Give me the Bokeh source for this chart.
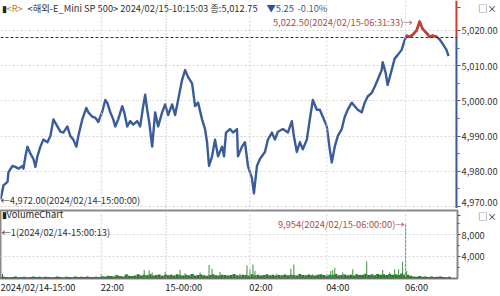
import numpy as np
from bokeh.plotting import figure
from bokeh.models import Range1d, FixedTicker, NumeralTickFormatter, Span, Label
from bokeh.layouts import column
from bokeh.embed import file_html
from bokeh.resources import INLINE

# ---------------- data ----------------
price_x = [0, 3, 7, 8, 12, 15, 18, 22, 23, 25, 27, 30, 33, 35, 37, 40, 43, 47, 50, 53,
           57, 60, 63, 67, 70, 73, 76, 78, 82, 86, 88, 92, 95, 98, 102, 105, 107, 110, 113, 115,
           118, 122, 124, 127, 130, 133, 137, 140, 143, 145, 147, 149, 152, 155, 158, 162, 165, 168, 172, 175,
           178, 182, 185, 188, 192, 195, 198, 202, 205, 207, 209, 212, 215, 218, 222, 224, 226, 230, 233, 237,
           238, 242, 245, 248, 252, 254, 257, 260, 265, 268, 272, 275, 278, 283, 288, 292, 294, 297, 300, 303,
           307, 310, 313, 317, 320, 323, 327, 330, 332, 335, 338, 342, 345, 348, 352, 355, 358, 362, 365, 368,
           372, 375, 378, 382, 383, 386, 388, 392, 395, 398, 402, 405, 407, 410, 413, 417, 420, 423, 427, 430,
           433, 437, 440, 443, 447, 449]
price = [4972.00, 4976.00, 4977.00, 4979.75, 4981.50, 4981.25, 4980.75, 4981.50, 4980.75, 4984.25,
         4987.00, 4985.00, 4983.50, 4981.25, 4984.25, 4987.00, 4989.00, 4988.25, 4990.00, 4994.75,
         4992.75, 4991.25, 4991.00, 4992.75, 4990.00, 4989.00, 4987.00, 4990.00, 4994.75, 4998.00,
         4996.75, 4995.50, 4995.25, 4994.00, 4997.00, 5000.25, 4999.50, 4996.75, 4994.75, 4992.75,
         4994.75, 4998.50, 4996.75, 4992.75, 4994.25, 4993.25, 4994.25, 4992.75, 4998.50, 5001.75,
         4997.50, 4994.00, 4987.00, 4996.75, 4992.75, 4996.75, 4999.00, 4996.00, 4999.00, 4996.00,
         5000.25, 5006.00, 5008.75, 5006.75, 5005.00, 4998.50, 4999.50, 4994.75, 4992.00, 4988.25,
         4981.50, 4984.25, 4989.00, 4984.25, 4987.00, 4984.25, 4991.00, 4992.00, 4991.00, 4992.00,
         4984.25, 4987.00, 4988.25, 4981.50, 4978.00, 4973.75, 4981.50, 4983.50, 4985.50, 4989.00,
         4991.00, 4989.00, 4991.25, 4992.00, 4991.00, 4994.25, 4990.00, 4985.50, 4988.25, 4986.25,
         4989.00, 4994.75, 5000.25, 4997.50, 4997.50, 4995.50, 4992.75, 4986.25, 4982.50, 4987.00,
         4990.00, 4992.00, 4995.50, 4997.50, 4999.50, 4998.50, 4997.50, 4996.75, 4999.50, 5001.25,
         5002.25, 5004.00, 5006.00, 5008.75, 5011.00, 5008.00, 5004.50, 5008.75, 5012.00, 5013.00,
         5014.50, 5017.25, 5018.50, 5018.25, 5018.75, 5020.00, 5022.50, 5020.50, 5019.25, 5018.25,
         5018.50, 5018.25, 5017.50, 5016.25, 5014.50, 5012.75]
prev_close = 5018.00
max_time = "2024/02/15-06:31:33"
min_time = "2024/02/14-15:00:00"

# volume: regular base bars plus spikes
base_vol_x = list(range(0, 451, 3))
base_vol = [150, 250, 200, 120, 180, 260, 150, 200, 230, 140, 190, 300, 170, 220, 160, 250, 200, 130,
            210, 280, 180, 160, 240, 200, 150, 270, 190, 220, 170, 300, 210, 180, 250, 200,
            320, 260, 400, 350, 280, 500, 380, 300, 650, 420, 360, 450, 700,
            450, 600, 520, 700, 480, 550, 650, 420, 580, 500,
            620, 480, 700, 550, 450, 600, 520, 750, 480, 560,
            640, 500, 420, 580, 700, 520, 460, 610, 540, 480,
            560, 720, 500, 450, 620, 580, 480, 700, 530, 600,
            450, 560, 680, 500, 620, 470, 580, 520, 650, 490,
            600, 540, 460, 720, 580, 500, 640, 520, 450, 600,
            700, 560, 480, 620, 540, 760, 500, 580, 640, 520,
            600, 480, 700, 560, 620, 800, 540, 660, 500, 720,
            600, 680, 540, 760, 620, 700, 580, 820, 650, 600,
            400, 300, 250, 350, 220, 280, 200, 260, 180, 240, 300, 200, 160, 220]
spike_x = [115, 127, 144, 149, 152, 165, 180, 185, 193, 200, 209, 212, 220, 240, 247, 250, 253, 255,
           277, 291, 294, 313, 331, 333, 335, 343, 353, 367, 373, 383, 390, 395, 399, 403, 406, 407]
spike_vol = [650, 700, 1500, 1400, 1000, 1100, 1500, 900, 800, 1000, 2400, 1700, 1100, 800, 2300, 1600,
             2500, 1300, 800, 1700, 2500, 700, 1300, 1500, 1900, 1000, 1600, 3100, 800, 1500, 1000,
             1600, 1600, 3000, 9954, 1300]
vol_max_time = "2024/02/15-06:00:00"
vol_min = 1
vol_min_time = "2024/02/14-15:00:13"

time_ticks = [2, 101, 166, 250, 327, 406]
time_labels = ["2024/02/14-15:00", "22:00", "15-00:00", "02:00", "04:00", "06:00"]
price_ticks = [4970, 4980, 4990, 5000, 5010, 5020]
vol_ticks = [4000, 8000]

header_name = "<해외-E_Mini SP 500> 2024/02/15-10:15:03 종:5,012.75"
header_chg = "▼5.25"
header_pct = "-0.10%"
window_icons = "□×"

# ---------------- styles ----------------
FONT = "Liberation Sans Narrow, Noto Sans CJK KR, sans-serif"
FS = "9.3px"
CHAR_W = 4.4       # approx. advance of one label character, used to left-align time labels
BLUE = "#3a5b9c"
RED = "#d23c2c"
TXTRED = "#a8503e"
GRID = "#d4d4d4"
X_END = 458
P_LO, P_HI = 4969.43, 5028.52
V_LO, V_HI = -90, 12494
PAD = "\u00a0" * 8
ICON_P = 5026.5    # price-axis position used for the panel's window icons
ICON_V = 11600     # volume-axis position used for the panel's window icons


def style_yaxis(ax):
    ax.axis_line_color = None
    ax.major_tick_in = 0
    ax.major_tick_out = 3
    ax.minor_tick_in = 0
    ax.minor_tick_out = 2
    ax.major_tick_line_color = "#555555"
    ax.minor_tick_line_color = "#555555"
    ax.major_label_standoff = 1
    ax.major_label_text_font = FONT
    ax.major_label_text_font_size = FS
    ax.major_label_text_color = "#333333"


# ---------------- price panel ----------------
p = figure(width=500, height=208, x_range=Range1d(0, X_END), y_range=Range1d(P_LO, P_HI),
           output_backend="svg", toolbar_location=None, x_axis_location=None,
           y_axis_location="right", min_border_left=0, min_border_top=0,
           min_border_bottom=0, min_border_right=42)
p.outline_line_color = None
p.yaxis.ticker = FixedTicker(ticks=price_ticks + [ICON_P], minor_ticks=[t + 5 for t in price_ticks[:-1]])
p.yaxis.formatter = NumeralTickFormatter(format="0,0.00")
p.yaxis.major_label_overrides = {ICON_P: PAD + window_icons}
style_yaxis(p.yaxis)
p.ygrid.ticker = FixedTicker(ticks=price_ticks)
p.ygrid.grid_line_color = GRID
p.ygrid.grid_line_dash = "2 2"
p.xgrid.grid_line_color = None

for t in time_ticks[1:]:
    day = (t == time_ticks[2])
    p.add_layout(Span(location=t, dimension="height",
                      line_color="#a8a8a8" if day else GRID,
                      line_dash="1 2" if day else "2 2", line_width=1))

p.add_layout(Span(location=prev_close, dimension="width", line_color="#333333",
                  line_dash="3 2", line_width=1))

# colored axis line (red above previous close, blue below)
p.segment(x0=[X_END - 0.8], y0=[P_HI], x1=[X_END - 0.8], y1=[prev_close], line_color=RED, line_width=2.5)
p.segment(x0=[X_END - 0.8], y0=[prev_close], x1=[X_END - 0.8], y1=[P_LO], line_color=BLUE, line_width=2.5)

p.line(price_x, price, line_color=BLUE, line_width=2.4, line_join="round")
px = np.array(price_x, dtype=float)
py = np.array(price, dtype=float)
mask = (py[:-1] >= prev_close) & (py[1:] >= prev_close)
p.segment(x0=px[:-1][mask], y0=py[:-1][mask], x1=px[1:][mask], y1=py[1:][mask],
          line_color=RED, line_width=2.4, line_cap="round")

imax = int(np.argmax(py))
imin = int(np.argmin(py))
p.add_layout(Label(x=px[imax], y=py[imax], x_offset=-7, text=f"{py[imax]:,.2f}({max_time})→",
                   text_align="right", text_baseline="middle", text_font=FONT,
                   text_font_size=FS, text_color=TXTRED))
p.add_layout(Label(x=px[imin], y=py[imin], x_offset=0, y_offset=-1,
                   text=f"←{py[imin]:,.2f}({min_time})", text_align="left",
                   text_baseline="middle", text_font=FONT, text_font_size=FS, text_color="#333333"))


def hdr(fig, x, y, text, color):
    fig.add_layout(Label(x=x, y=y, x_units="screen", y_units="screen", text=text,
                         text_align="left", text_baseline="middle", text_font=FONT,
                         text_font_size=FS, text_color=color))


hdr(p, 1, 201, "▮", "#222222")
hdr(p, 6, 201, "<R>", "#c8783c")
hdr(p, 27, 201, header_name, "#303030")
hdr(p, 266, 201, header_chg, "#2f4f9f")
hdr(p, 297, 201, header_pct, "#4a5a80")

# ---------------- volume panel ----------------
v = figure(width=500, height=88, x_range=p.x_range, y_range=Range1d(V_LO, V_HI),
           output_backend="svg", toolbar_location=None, y_axis_location="right",
           x_axis_location="below", min_border_left=0, min_border_top=2,
           min_border_bottom=16, min_border_right=42)
v.outline_line_color = "#8a8a8a"
v.outline_line_width = 2
v.yaxis.ticker = FixedTicker(ticks=vol_ticks + [ICON_V], minor_ticks=[2000, 6000, 10000])
v.yaxis.formatter = NumeralTickFormatter(format="0,0")
v.yaxis.major_label_overrides = {ICON_V: PAD + window_icons}
style_yaxis(v.yaxis)
v.ygrid.ticker = FixedTicker(ticks=vol_ticks)
v.ygrid.grid_line_color = GRID
v.ygrid.grid_line_dash = "2 2"
v.xgrid.grid_line_color = None

# time labels: axis labels centred half a label-width to the right of each tick (left-aligned look)
label_pos = [t + len(lab) * CHAR_W / 2 for t, lab in zip(time_ticks, time_labels)]
v.xaxis.ticker = FixedTicker(ticks=label_pos, minor_ticks=[])
v.xaxis.major_label_overrides = dict(zip(label_pos, time_labels))
v.xaxis.major_label_standoff = 1
v.xaxis.major_label_text_font = FONT
v.xaxis.major_label_text_font_size = FS
v.xaxis.major_label_text_color = "#222222"
v.xaxis.axis_line_color = "#707070"
v.xaxis.major_tick_in = 0
v.xaxis.major_tick_out = 0
v.xaxis.major_tick_line_color = None

for t in time_ticks[1:]:
    day = (t == time_ticks[2])
    v.add_layout(Span(location=t, dimension="height",
                      line_color="#a8a8a8" if day else GRID,
                      line_dash="1 2" if day else "2 2", line_width=1))

# time tick marks on the bottom edge
v.segment(x0=time_ticks, y0=[V_LO] * len(time_ticks), x1=time_ticks,
          y1=[V_LO + 800] * len(time_ticks), line_color="#444444", line_width=1)

v.vbar(x=base_vol_x, top=base_vol, bottom=0, width=3.0, fill_color="#2b7a2b", line_color=None)
v.vbar(x=spike_x, top=spike_vol, bottom=0, width=1.0, fill_color="#3f913f", line_color=None)

sv = np.array(spike_vol)
iv = int(np.argmax(sv))
v.add_layout(Label(x=spike_x[iv], y=sv[iv], x_offset=-1, text=f"{sv[iv]:,}({vol_max_time})→",
                   text_align="right", text_baseline="middle", text_font=FONT,
                   text_font_size=FS, text_color=TXTRED))
hdr(v, 1, 65, "▮VolumeChart", "#222222")
hdr(v, 1, 47, f"←{vol_min}({vol_min_time})", "#333333")

layout = column(p, v, spacing=0)
open("out.html", "w").write(file_html(layout, INLINE))
